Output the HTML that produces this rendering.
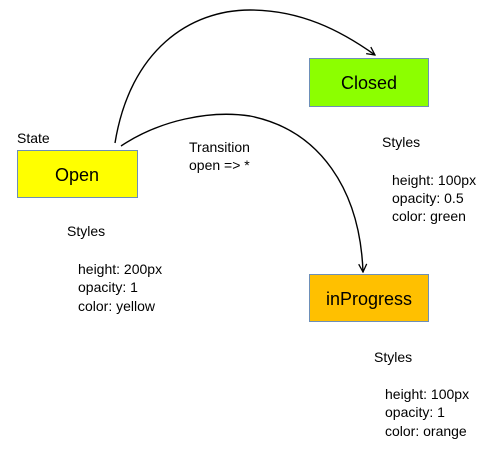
<!DOCTYPE html>
<html><head><style>
html,body{margin:0;padding:0;background:#fff;width:500px;height:454px;overflow:hidden}
svg text{font-family:"Liberation Sans",sans-serif;fill:#000}
</style></head><body>
<svg width="500" height="454" viewBox="0 0 500 454" xmlns="http://www.w3.org/2000/svg">
<defs><marker id="a" markerWidth="10" markerHeight="10" refX="9" refY="5" orient="auto" markerUnits="userSpaceOnUse"><path d="M1,1 L9,5 L1,9" fill="none" stroke="#000" stroke-width="1.3"/></marker></defs>
<rect x="17.5" y="150.5" width="120" height="47" fill="#ffff00" stroke="#6d8fb8" stroke-width="1"/>
<rect x="309.5" y="58.5" width="119" height="48" fill="#8cff00" stroke="#6d8fb8" stroke-width="1"/>
<rect x="309.5" y="274.5" width="119" height="47" fill="#ffc000" stroke="#6d8fb8" stroke-width="1"/>
<path d="M115,143 C130,50 190,10 250,10 C300,10 340,30 375,55" fill="none" stroke="#000" stroke-width="1.4" marker-end="url(#a)"/>
<path d="M121,146 C160,120 210,110 250,116 C320,130 360,190 363,272" fill="none" stroke="#000" stroke-width="1.4" marker-end="url(#a)"/>
<text x="17" y="143" font-size="14">State</text>
<text x="77" y="181" font-size="18" text-anchor="middle">Open</text>
<text x="369" y="89" font-size="18" text-anchor="middle">Closed</text>
<text x="369" y="305" font-size="18" text-anchor="middle">inProgress</text>
<text x="189" y="152" font-size="14">Transition</text>
<text x="189" y="170" font-size="14">open =&gt;  *</text>
<text x="382" y="147" font-size="14">Styles</text>
<text x="392" y="185" font-size="14">height: 100px</text>
<text x="392" y="203" font-size="14">opacity: 0.5</text>
<text x="392" y="221" font-size="14">color: green</text>
<text x="67" y="236" font-size="14">Styles</text>
<text x="78" y="274" font-size="14">height: 200px</text>
<text x="78" y="292" font-size="14">opacity: 1</text>
<text x="78" y="311" font-size="14">color: yellow</text>
<text x="374" y="362" font-size="14">Styles</text>
<text x="385" y="399" font-size="14">height: 100px</text>
<text x="385" y="417" font-size="14">opacity: 1</text>
<text x="385" y="436" font-size="14">color: orange</text>
</svg>
</body></html>
